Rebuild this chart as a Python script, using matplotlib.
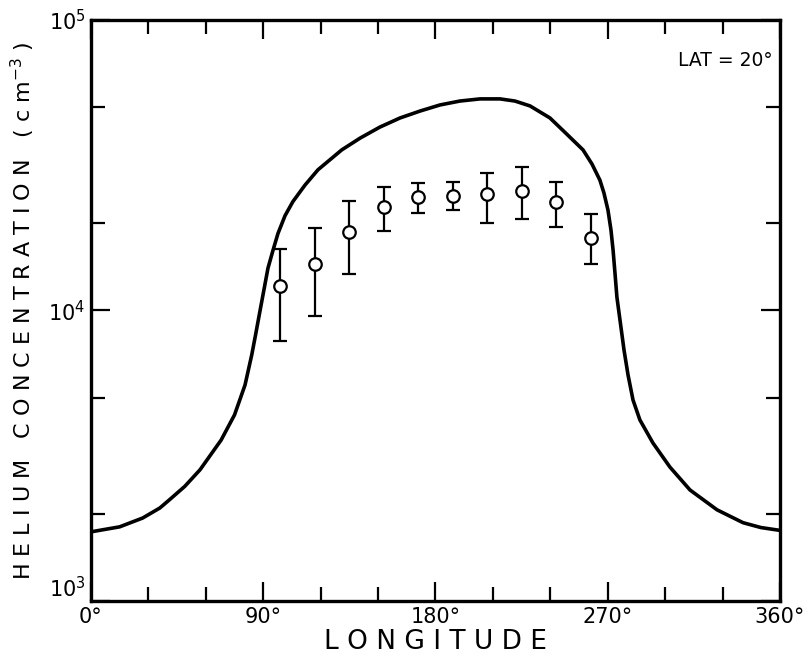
import matplotlib.pyplot as plt
import numpy as np

# model curve
curve_lon = [0, 15, 27, 36, 41, 49, 57, 68, 75, 80.5, 84, 86, 88.3, 90.4, 92.5, 95.1,
             97.7, 101.4, 105.5, 111.8, 118.6, 131, 140.6, 151, 161.5, 172, 182.4,
             192.8, 203.3, 213.7, 221.5, 229.4, 239.8, 247.7, 257.1, 261.8, 265.9,
             268, 270.1, 271.7, 272.8, 273.8, 274.8, 276.4, 278.5, 280.6, 283.2,
             286.8, 293.6, 302.5, 313, 327.1, 340.7, 350, 360]
curve_he = [1730, 1800, 1930, 2090, 2230, 2480, 2830, 3580, 4370, 5540, 7030, 8240,
            9950, 11800, 14000, 16100, 18400, 21200, 23700, 27000, 30500, 35700,
            39200, 42800, 46000, 48600, 51000, 52600, 53500, 53500, 52600, 50600,
            46000, 41000, 35700, 31900, 28100, 25400, 22200, 18900, 16100, 13400,
            11100, 9270, 7310, 6000, 4920, 4200, 3500, 2890, 2410, 2060, 1860, 1790,
            1750]

# observed points with error bars
obs_lon = [99, 117, 135, 153, 171, 189, 207, 225, 243, 261]
obs_he = [12100, 14500, 18700, 22700, 24500, 24800, 25200, 25800, 23700, 17700]
obs_hi = [16300, 19300, 23800, 26700, 27400, 27600, 29800, 31100, 27700, 21500]
obs_lo = [7870, 9550, 13400, 18800, 21600, 22100, 20000, 20600, 19400, 14500]

xlabels = ['0°', '90°', '180°', '270°', '360°']

fig = plt.figure(figsize=(8.12, 6.66), dpi=100)
ax = fig.add_axes([0.112, 0.0976, 0.8486, 0.8724])

ax.plot(curve_lon, curve_he, color='black', lw=2.6, solid_joinstyle='round')

he = np.array(obs_he)
yerr = [he - np.array(obs_lo), np.array(obs_hi) - he]
ax.errorbar(obs_lon, obs_he, yerr=yerr, fmt='o', color='black', ms=9,
            mfc='white', mec='black', mew=1.6, elinewidth=1.6, capsize=5, capthick=1.8)

ax.set_yscale('log')
ax.set_xlim(0, 360)
ax.set_ylim(1e3, 1e5)

ax.set_xticks(np.arange(0, 361, 90))
ax.set_xticklabels(xlabels, fontsize=15)
ax.set_xticks(np.arange(0, 361, 30), minor=True)
ax.set_yticks([1e3, 1e4, 1e5])
ylab = ax.set_yticklabels(['$10^3$', '$10^4$', '$10^5$'], fontsize=15)
ylab[0].set_va('bottom')
ax.set_yticks([2e3, 5e3, 2e4, 5e4], minor=True)
ax.set_yticklabels([], minor=True)

ax.tick_params(which='both', direction='in', top=True, right=True, width=1.6)
ax.tick_params(which='major', length=14, pad=4)
ax.tick_params(which='minor', length=10)

for s in ax.spines.values():
    s.set_linewidth(2.4)

ax.set_xlabel('L O N G I T U D E', fontsize=19, labelpad=2)
ax.set_ylabel('H E L I U M   C O N C E N T R A T I O N   ( c m$^{-3}$ )',
              fontsize=16, labelpad=8)
ax.text(0.852, 0.93, 'LAT = 20°', transform=ax.transAxes, fontsize=13.5,
        ha='left', va='center')

plt.savefig('out.png', dpi=100)
